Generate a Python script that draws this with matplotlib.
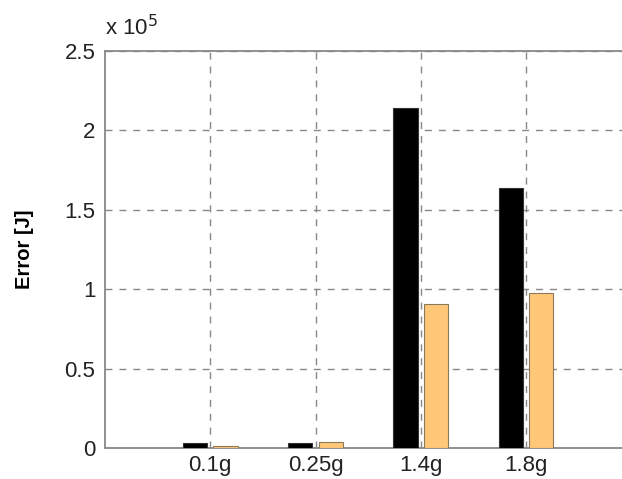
import matplotlib
matplotlib.use('Agg')
import matplotlib.pyplot as plt
import numpy as np

plt.rcParams['font.family'] = ['Liberation Sans', 'DejaVu Sans']

labels = ['0.1g', '0.25g', '1.4g', '1.8g']
err_black = [0.030, 0.033, 2.143, 1.639]   # x 10^5 J
err_orange = [0.015, 0.040, 0.907, 0.974]  # x 10^5 J

fig = plt.figure(figsize=(6.22, 4.79), dpi=100)
ax = fig.add_axes([105/622, 31/479, 1 - 105/622 + 0.002, 397/479])

x = np.arange(1, len(labels) + 1)
w = 0.23
ax.bar(x - 0.145, err_black, w, color='black', edgecolor='#333333', linewidth=0.8, zorder=3)
ax.bar(x + 0.145, err_orange, w, color='#FFC878', edgecolor='#8a7a5a', linewidth=0.8, zorder=3)

ax.set_xlim(0, 517/105)
ax.set_ylim(0, 2.5)
ax.set_xticks(x)
ax.set_xticklabels(labels)
ax.set_yticks([0, 0.5, 1, 1.5, 2, 2.5])
ax.set_yticklabels(['0', '0.5', '1', '1.5', '2', '2.5'])
ax.tick_params(length=0, labelsize=16, colors='#222222')
ax.tick_params(axis='y', pad=7)
ax.tick_params(axis='x', pad=5)

ax.grid(True, linestyle=(0, (5, 5)), color='#888888', linewidth=1.0, zorder=0)
for s in ['top', 'left', 'bottom']:
    ax.spines[s].set_color('#888888')
    ax.spines[s].set_linewidth(1.3)
ax.spines['right'].set_visible(False)

ax.set_ylabel('Error [J]', fontsize=14.5, fontweight='bold', labelpad=22)
fig.text(105/622, 1 - 28/479, r'x 10$^5$', fontsize=16, ha='left', va='center', color='#222222')

fig.savefig('out.png', dpi=100)
